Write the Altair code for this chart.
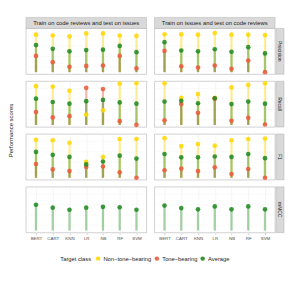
import altair as alt
import pandas as pd

models = ["BERT", "CART", "KNN", "LR", "NB", "RF", "SVM"]
metrics = ["Precision", "Recall", "F1", "mMCC"]
directions = ["Train on code reviews and test on issues",
              "Train on issues and test on code reviews"]
classes = ["Non−tone−bearing", "Tone−bearing", "Average"]
class_colors = ["#FFD700", "#EC5B3A", "#228B22"]
y_ticks = [0, 0.25, 0.5, 0.75, 1.0]
y_minor = [0.125, 0.375, 0.625, 0.875]
y_title = "Performance scores"
legend_title = "Target class"

# --- values per model ---
# Train on code reviews, test on issues
prec_a_non = [0.90, 0.88, 0.86, 0.93, 0.93, 0.88, 0.87]
prec_a_tone = [0.39, 0.24, 0.13, 0.15, 0.16, 0.39, 0.09]
prec_a_avg = [0.65, 0.56, 0.50, 0.53, 0.54, 0.63, 0.48]
rec_a_non = [0.93, 0.92, 0.82, 0.25, 0.35, 0.99, 1.00]
rec_a_tone = [0.31, 0.18, 0.21, 0.89, 0.86, 0.09, 0.00]
rec_a_avg = [0.63, 0.55, 0.51, 0.57, 0.60, 0.54, 0.51]
f1_a_non = [0.91, 0.90, 0.84, 0.38, 0.50, 0.93, 0.93]
f1_a_tone = [0.33, 0.20, 0.16, 0.26, 0.27, 0.13, 0.00]
f1_a_avg = [0.62, 0.55, 0.50, 0.32, 0.39, 0.53, 0.46]
mcc_a_avg = [0.62, 0.55, 0.50, 0.55, 0.57, 0.56, 0.50]

# Train on issues, test on code reviews
prec_b_non = [0.91, 0.91, 0.90, 0.94, 0.90, 0.90, 0.89]
prec_b_tone = [0.51, 0.14, 0.11, 0.16, 0.08, 0.28, 0.00]
prec_b_avg = [0.72, 0.52, 0.50, 0.55, 0.49, 0.60, 0.45]
rec_b_non = [1.00, 0.65, 0.74, 0.65, 0.90, 0.96, 1.00]
rec_b_tone = [0.11, 0.50, 0.29, 0.63, 0.10, 0.17, 0.01]
rec_b_avg = [0.56, 0.58, 0.52, 0.64, 0.50, 0.56, 0.51]
f1_b_non = [0.95, 0.76, 0.81, 0.77, 0.90, 0.93, 0.94]
f1_b_tone = [0.18, 0.22, 0.16, 0.25, 0.09, 0.21, 0.00]
f1_b_avg = [0.57, 0.49, 0.49, 0.51, 0.50, 0.57, 0.47]
mcc_b_avg = [0.60, 0.54, 0.51, 0.58, 0.51, 0.58, 0.51]

series = {
    ("Precision", 0): [prec_a_non, prec_a_tone, prec_a_avg],
    ("Recall", 0): [rec_a_non, rec_a_tone, rec_a_avg],
    ("F1", 0): [f1_a_non, f1_a_tone, f1_a_avg],
    ("mMCC", 0): [None, None, mcc_a_avg],
    ("Precision", 1): [prec_b_non, prec_b_tone, prec_b_avg],
    ("Recall", 1): [rec_b_non, rec_b_tone, rec_b_avg],
    ("F1", 1): [f1_b_non, f1_b_tone, f1_b_avg],
    ("mMCC", 1): [None, None, mcc_b_avg],
}

FONT = "Liberation Sans"
W, H = 121, 46
STRIP = 11
RSTRIP = 8

cscale = alt.Scale(domain=classes, range=class_colors)
yscale = alt.Scale(domain=[-0.05, 1.05], nice=False, zero=False)
xscale = alt.Scale(type="point", domain=models, padding=0.6)

LEGEND = alt.Legend(
    title=legend_title, orient="none", legendX=34.5, legendY=228,
    direction="horizontal", titleOrient="left", titleFontSize=5.8,
    titleFontWeight="normal", titleColor="#1a1a1a", labelFontSize=5.8,
    labelFont=FONT, titleFont=FONT,
    labelColor="#1a1a1a", symbolSize=20, symbolType="circle",
    titlePadding=4, columnPadding=2, labelOffset=2.5, symbolStrokeWidth=0,
    symbolOpacity=0.9, gridAlign="each")

def x_axis(show):
    if show:
        return alt.Axis(title=None, labelFontSize=4.4, labelColor="#4d4d4d",
                        tickColor="#b3b3b3", tickSize=2, tickWidth=0.5, domain=False,
                        grid=True, gridColor="#ebebeb", gridWidth=0.5,
                        labelPadding=1.5, labelAngle=0)
    return alt.Axis(title=None, labels=False, ticks=False, domain=False,
                    grid=True, gridColor="#ebebeb", gridWidth=0.5)

def y_axis(show):
    if show:
        return alt.Axis(title=None, values=y_ticks, format=".2f", labelFontSize=4.4,
                        labelColor="#4d4d4d", tickColor="#b3b3b3", tickSize=2,
                        tickWidth=0.5, domain=False, grid=True, gridColor="#ebebeb",
                        gridWidth=0.5, labelPadding=1.5)
    return alt.Axis(title=None, values=y_ticks, labels=False, ticks=False, domain=False,
                    grid=True, gridColor="#ebebeb", gridWidth=0.5)

panels = []
for ri, metric in enumerate(metrics):
    for ci, direction in enumerate(directions):
        rows = []
        for k, cls in enumerate(classes):
            vals = series[(metric, ci)][k]
            if vals is None:
                continue
            for m, v in zip(models, vals):
                rows.append({"model": m, "cls": cls, "value": v})
        d = pd.DataFrame(rows)
        bottom = ri == len(metrics) - 1
        left = ci == 0
        x = alt.X("model:N", scale=xscale, axis=x_axis(bottom), sort=models)
        y = alt.Y("value:Q", scale=yscale, axis=y_axis(left))
        layers = []
        minor = alt.Chart(pd.DataFrame({"v": y_minor})).mark_rule(
            color="#f2f2f2", strokeWidth=0.4).encode(
            y=alt.Y("v:Q", scale=yscale, axis=None))
        layers.append(minor)
        base = alt.Chart(d)
        for cls, col in zip(classes, class_colors):
            if cls not in set(d["cls"]):
                continue
            layers.append(base.transform_filter(alt.datum.cls == cls).mark_rule(
                strokeWidth=2.3, opacity=0.4, color=col).encode(
                x=x, y=y, y2=alt.datum(0)))
        pts = base.mark_circle(size=22, opacity=0.88).encode(
            x=x, y=y, color=alt.Color("cls:N", scale=cscale, legend=LEGEND))
        layers.append(pts)
        if ri == 0:
            sd = pd.DataFrame({"t": [direction]})
            layers.append(alt.Chart(sd).mark_rect(
                fill="#d9d9d9", stroke="#b3b3b3", strokeWidth=0.5).encode(
                x=alt.value(0), x2=alt.value(W), y=alt.value(-STRIP), y2=alt.value(0)))
            layers.append(alt.Chart(sd).mark_text(
                fontSize=5.9, color="#1a1a1a").encode(
                text="t:N", x=alt.value(W / 2), y=alt.value(-STRIP / 2)))
        if ci == 1:
            md = pd.DataFrame({"t": [metric]})
            layers.append(alt.Chart(md).mark_rect(
                fill="#d9d9d9", stroke="#b3b3b3", strokeWidth=0.5).encode(
                x=alt.value(W + 1), x2=alt.value(W + 1 + RSTRIP),
                y=alt.value(0), y2=alt.value(H)))
            layers.append(alt.Chart(md).mark_text(
                fontSize=5.0, color="#1a1a1a", angle=90).encode(
                text="t:N", x=alt.value(W + 1 + RSTRIP / 2), y=alt.value(H / 2)))
        if ci == 0 and ri == 1:
            td = pd.DataFrame({"t": [y_title]})
            layers.append(alt.Chart(td).mark_text(
                fontSize=6.0, color="#1a1a1a", angle=270).encode(
                text="t:N", x=alt.value(-14.5), y=alt.value(H + 3.5)))
        panels.append(alt.layer(*layers).properties(width=W, height=H))

chart = alt.concat(*panels, columns=2, spacing={"row": 7, "column": 8},
                   bounds="flush").properties(
    padding={"left": 0, "top": 8, "right": 0, "bottom": 0}
).configure(font=FONT).configure_view(stroke="#b3b3b3", strokeWidth=0.6)

chart.save("out.html", embed_options={"renderer": "svg", "actions": False})
